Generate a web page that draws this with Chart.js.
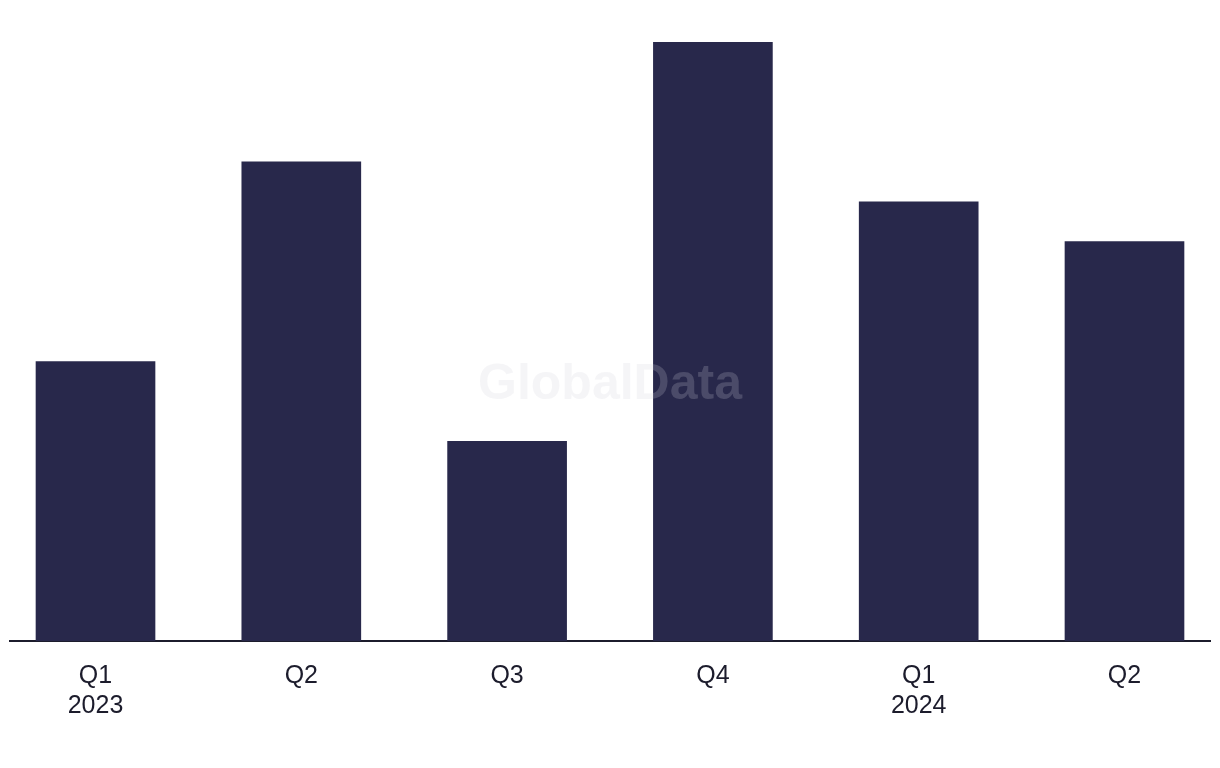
<!DOCTYPE html>
<html>
<head>
<meta charset="utf-8">
<script src="https://cdn.jsdelivr.net/npm/chart.js@4/dist/chart.umd.min.js"></script>
<style>
  html, body { margin: 0; padding: 0; background: #fff; }
  #wrap { width: 1220px; height: 768px; }
</style>
</head>
<body>
<div id="wrap"><canvas id="qChart" width="1220" height="768"></canvas></div>
<script>
// Data
const quarters = ['Q1', 'Q2', 'Q3', 'Q4', 'Q1', 'Q2'];
const years = ['2023', '', '', '', '2024', ''];
const values = [7, 12, 5, 15, 11, 10];

const barColor = '#28284b';
const textColor = '#1c1c2c';

// Watermark
const watermark = {
    id: 'watermark',
    afterDatasetsDraw(chart) {
        const ctx = chart.ctx;
        ctx.save();
        ctx.font = 'bold 50px "Liberation Sans", sans-serif';
        ctx.fillStyle = 'rgba(207, 207, 215, 0.21)';
        ctx.textAlign = 'center';
        ctx.textBaseline = 'middle';
        ctx.fillText('GlobalData', 610, 385);
        ctx.restore();
    }
};

new Chart(document.getElementById('qChart'), {
    type: 'bar',
    data: {
        datasets: [{
            data: values.map((v, i) => ({ x: i, y: v })),
            backgroundColor: barColor,
            barThickness: 119,
            borderWidth: 0
        }]
    },
    options: {
        responsive: false,
        animation: false,
        layout: { padding: { left: 10, right: 10, top: 42, bottom: 35 } },
        plugins: { legend: { display: false }, tooltip: { enabled: false } },
        scales: {
            x: {
                type: 'linear',
                offset: false,
                bounds: 'data',
                min: -0.4155,
                max: 5.4155,
                grid: { display: false },
                border: { color: textColor, width: 2 },
                afterBuildTicks: (axis) => { axis.ticks = quarters.map((q, i) => ({ value: i })); },
                ticks: {
                    padding: 12,
                    color: textColor,
                    font: { family: '"Liberation Sans", sans-serif', size: 25, lineHeight: 1.2 },
                    maxRotation: 0,
                    callback: (v) => years[v] ? [quarters[v], years[v]] : quarters[v]
                }
            },
            y: { display: false, min: 0, max: 15 }
        }
    },
    plugins: [watermark]
});
</script>
</body>
</html>
